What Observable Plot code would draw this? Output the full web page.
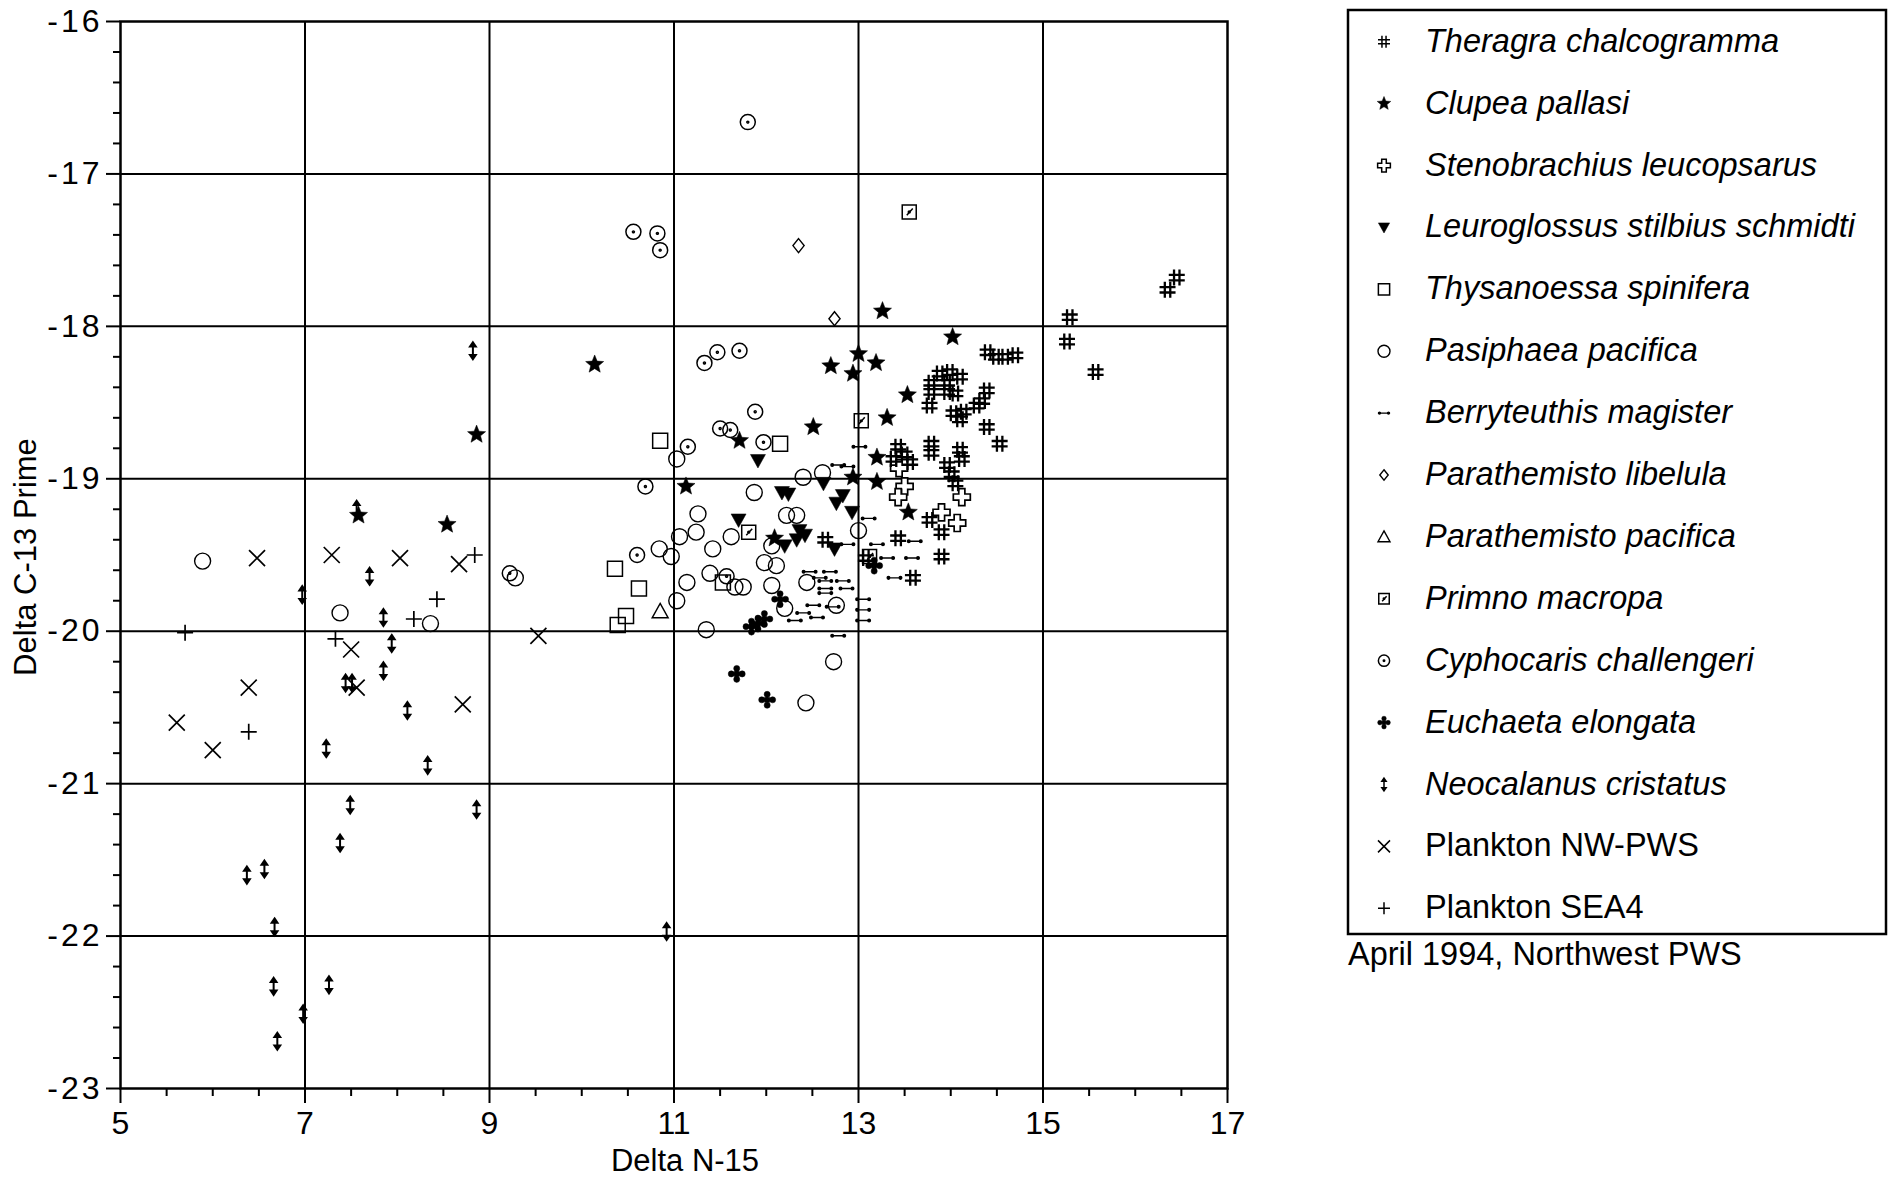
<!DOCTYPE html>
<html>
<head>
<meta charset="utf-8">
<script src="https://cdn.jsdelivr.net/npm/d3@7"></script>
<script src="https://cdn.jsdelivr.net/npm/@observablehq/plot@0.6"></script>
<style>
  html, body { margin: 0; padding: 0; background: #fff; }
  #chart { position: relative; width: 1890px; height: 1177px; font-family: "Liberation Sans", Arial, Helvetica, sans-serif; color: #000; }
  #chart > svg { position: absolute; top: 0; }
</style>
</head>
<body>
<div id="chart"></div>
<script>
// Delta N-15 vs Delta C-13 (prime) for fish, squid and zooplankton, April 1994, NW Prince William Sound
// Each series: [delta N-15, delta C-13 prime]

const theragra = [
  [15.29,-17.94],[15.26,-18.10],[15.57,-18.30],[16.35,-17.76],[16.45,-17.68],
  [14.40,-18.17],[14.49,-18.20],[14.59,-18.20],[14.70,-18.19],
  [13.88,-18.31],[13.99,-18.30],[14.10,-18.33],[13.79,-18.37],[13.96,-18.37],[13.79,-18.43],
  [13.96,-18.43],[14.05,-18.44],[13.77,-18.52],[14.03,-18.57],[14.14,-18.56],[14.10,-18.61],
  [14.39,-18.42],[14.34,-18.49],[14.28,-18.52],[14.39,-18.66],[14.53,-18.77],[13.79,-18.77],
  [13.79,-18.83],[14.10,-18.81],[14.12,-18.87],[13.96,-18.91],[14.01,-18.97],[14.05,-19.03],
  [13.43,-18.79],[13.50,-18.84],[13.56,-18.89],[13.38,-18.87],
  [13.77,-19.27],[13.90,-19.35],[13.43,-19.39],[13.90,-19.51],[13.59,-19.65],[12.64,-19.40],[13.08,-19.52]
];
const clupea = [
  [10.14,-18.25],[8.86,-18.71],[7.58,-19.24],[8.54,-19.30],[11.13,-19.05],[13.26,-17.90],
  [14.02,-18.07],[12.70,-18.26],[13.00,-18.18],[13.19,-18.24],[12.94,-18.31],[12.51,-18.66],
  [11.71,-18.75],[13.53,-18.45],[13.31,-18.60],[13.20,-18.86],[13.20,-19.02],[12.94,-18.99],
  [13.54,-19.22],[12.09,-19.39]
];
const stenobrachius = [
  [13.44,-18.93],[13.50,-19.05],[13.43,-19.12],[14.12,-19.12],[13.90,-19.22],[14.07,-19.29]
];
const leuroglossus = [
  [11.91,-18.88],[12.17,-19.09],[12.24,-19.10],[12.62,-19.03],[12.76,-19.16],[12.83,-19.11],
  [12.93,-19.22],[11.70,-19.27],[12.36,-19.34],[12.42,-19.37],[12.20,-19.44],[12.33,-19.40],[12.74,-19.46]
];
const thysanoessa = [
  [10.85,-18.75],[12.15,-18.77],[10.36,-19.59],[10.62,-19.72],[10.48,-19.90],[10.39,-19.96],[11.53,-19.68]
];
const pasiphaea = [
  [5.89,-19.54],[7.38,-19.88],[8.36,-19.95],[9.28,-19.65],
  [11.03,-18.87],[12.40,-18.99],[12.61,-18.96],
  [11.87,-19.09],[11.26,-19.23],[12.22,-19.24],[12.33,-19.24],[11.24,-19.35],[11.06,-19.38],
  [11.62,-19.38],[11.42,-19.46],[10.84,-19.46],[10.97,-19.51],[12.06,-19.44],[11.98,-19.55],
  [12.11,-19.57],[11.39,-19.62],[11.14,-19.68],[11.66,-19.71],[11.75,-19.71],[12.06,-19.70],
  [12.44,-19.68],[12.76,-19.83],[11.03,-19.80],[11.35,-19.99],[12.20,-19.85],[13.00,-19.34],
  [12.73,-20.20],[12.43,-20.47]
];
const berryteuthis = [
  [12.78,-18.91],[12.88,-18.92],[13.01,-18.79],[13.11,-19.26],[13.20,-19.43],[13.61,-19.41],
  [13.58,-19.52],[13.31,-19.52],[12.88,-19.43],[12.83,-19.67],[12.87,-19.72],[13.39,-19.65],
  [13.05,-19.79],[13.05,-19.86],[13.05,-19.93],[12.78,-20.03],[12.69,-19.61],[12.64,-19.67],
  [12.64,-19.72],[12.64,-19.75],[12.51,-19.83],[12.40,-19.88],[12.58,-19.65],[12.47,-19.61],
  [12.72,-19.84],[12.31,-19.93],[12.55,-19.91]
];
const parathemistoLibelula = [[12.35,-17.47],[12.74,-17.95]];
const parathemistoPacifica = [[10.85,-19.87]];
const primno = [[13.55,-17.25],[13.03,-18.62],[11.81,-19.35],[13.12,-19.51]];
const cyphocaris = [
  [10.56,-17.38],[10.82,-17.39],[10.85,-17.50],[11.80,-16.66],[11.47,-18.17],[11.33,-18.24],
  [11.71,-18.16],[11.88,-18.56],[11.50,-18.67],[11.61,-18.68],[11.97,-18.76],[11.15,-18.79],
  [10.69,-19.05],[10.60,-19.50],[9.22,-19.62],[11.57,-19.64]
];
const euchaeta = [
  [11.68,-20.28],[12.01,-20.45],[12.15,-19.79],[11.91,-19.95],[11.98,-19.92],[11.84,-19.97],[13.17,-19.57]
];
const neocalanus = [
  [7.70,-19.64],[6.97,-19.76],[7.85,-19.91],[7.94,-20.08],[7.85,-20.26],[7.44,-20.34],[7.51,-20.34],
  [8.11,-20.52],[7.23,-20.77],[8.33,-20.88],[7.49,-21.14],[8.86,-21.17],[7.38,-21.39],[6.37,-21.60],
  [6.56,-21.56],[6.67,-21.94],[6.66,-22.33],[7.26,-22.32],[6.98,-22.51],[6.70,-22.69],
  [8.82,-18.16],[7.56,-19.20],[10.92,-21.97]
];
const planktonNW = [
  [6.48,-19.52],[7.29,-19.50],[8.03,-19.52],[8.67,-19.56],[5.61,-20.60],[6.00,-20.78],
  [6.39,-20.37],[7.50,-20.12],[7.56,-20.37],[8.71,-20.48],[9.53,-20.03]
];
const planktonSEA4 = [
  [5.70,-20.01],[6.39,-20.66],[7.33,-20.05],[8.43,-19.79],[8.18,-19.92],[8.84,-19.50]
];

const xTicks = [5, 7, 9, 11, 13, 15, 17];
const yTicks = [-16, -17, -18, -19, -20, -21, -22, -23];
const xLabel = "Delta N-15";
const yLabel = "Delta C-13 Prime";
const caption = "April 1994, Northwest PWS";

// ---- marker shapes (r = half extent in px) ----
const rOf = size => Math.sqrt(size / Math.PI);
const poly = (c, pts) => { pts.forEach(([x, y], i) => i ? c.lineTo(x, y) : c.moveTo(x, y)); c.closePath(); };

const symHash = { draw(c, size) { const r = rOf(size), a = 0.34 * r;
  c.moveTo(-a, -r); c.lineTo(-a, r); c.moveTo(a, -r); c.lineTo(a, r);
  c.moveTo(-r, -a); c.lineTo(r, -a); c.moveTo(-r, a); c.lineTo(r, a); } };
const symStar = { draw(c, size) { const r = rOf(size), ri = 0.44 * r, pts = [];
  for (let i = 0; i < 10; i++) { const q = i % 2 ? ri : r, a = -Math.PI / 2 + i * Math.PI / 5; pts.push([q * Math.cos(a), q * Math.sin(a)]); }
  poly(c, pts); } };
const symCrossOutline = { draw(c, size) { const r = rOf(size), w = 0.36 * r;
  poly(c, [[-w,-r],[w,-r],[w,-w],[r,-w],[r,w],[w,w],[w,r],[-w,r],[-w,w],[-r,w],[-r,-w],[-w,-w]]); } };
const symTriDown = { draw(c, size) { const r = rOf(size); poly(c, [[-r,-0.8*r],[r,-0.8*r],[0,r]]); } };
const symTriUp = { draw(c, size) { const r = rOf(size); poly(c, [[0,-r],[r,0.8*r],[-r,0.8*r]]); } };
const symSquare = { draw(c, size) { const r = rOf(size); poly(c, [[-r,-r],[r,-r],[r,r],[-r,r]]); } };
const symDiamond = { draw(c, size) { const r = rOf(size); poly(c, [[0,-r],[0.8*r,0],[0,r],[-0.8*r,0]]); } };
const symCircle = { draw(c, size) { const r = rOf(size); c.moveTo(r, 0); c.arc(0, 0, r, 0, 2 * Math.PI); } };
const symDotCircle = { draw(c, size) { const r = rOf(size), d = 0.13 * r;
  c.moveTo(r, 0); c.arc(0, 0, r, 0, 2 * Math.PI); c.moveTo(d, 0); c.arc(0, 0, d, 0, 2 * Math.PI); } };
const symPrimno = { draw(c, size) { const r = rOf(size), d = 0.14 * r;
  poly(c, [[-r,-r],[r,-r],[r,r],[-r,r]]);
  c.moveTo(-0.35 * r, 0.45 * r); c.lineTo(0.5 * r, -0.5 * r);
  c.moveTo(d, 0); c.arc(0, 0, d, 0, 2 * Math.PI); } };
const symHArrow = { draw(c, size) { const r = rOf(size), d = 0.22 * r;
  c.moveTo(-r, 0); c.lineTo(r, 0);
  c.moveTo(-r + d, 0); c.arc(-r, 0, d, 0, 2 * Math.PI);
  c.moveTo(r + d, 0); c.arc(r, 0, d, 0, 2 * Math.PI); } };
const symVArrow = { draw(c, size) { const r = rOf(size), h = 0.34 * r;
  c.moveTo(0, -r); c.lineTo(0, r);
  poly(c, [[0,-r],[h,-0.5*r],[-h,-0.5*r]]);
  poly(c, [[0,r],[h,0.5*r],[-h,0.5*r]]); } };
const symClover = { draw(c, size) { const r = rOf(size), q = 0.36 * r, o = r - q;
  for (const [x, y] of [[o,0],[-o,0],[0,o],[0,-o]]) { c.moveTo(x + q, y); c.arc(x, y, q, 0, 2 * Math.PI); }
  poly(c, [[-0.3*r,-0.3*r],[0.3*r,-0.3*r],[0.3*r,0.3*r],[-0.3*r,0.3*r]]); } };
const symTimes = { draw(c, size) { const r = rOf(size);
  c.moveTo(-r, -r); c.lineTo(r, r); c.moveTo(-r, r); c.lineTo(r, -r); } };
const symPlus = { draw(c, size) { const r = rOf(size);
  c.moveTo(-r, 0); c.lineTo(r, 0); c.moveTo(0, -r); c.lineTo(0, r); } };

// legend order and styling for each series
const series = [
  {name: "Theragra chalcogramma", italic: true, data: theragra, symbol: symHash, r: 8, fill: "none", stroke: "#000", sw: 2.3},
  {name: "Clupea pallasi", italic: true, data: clupea, symbol: symStar, r: 9.5, fill: "#000", stroke: "#000", sw: 0.5},
  {name: "Stenobrachius leucopsarus", italic: true, data: stenobrachius, symbol: symCrossOutline, r: 8.5, fill: "#fff", stroke: "#000", sw: 1.7},
  {name: "Leuroglossus stilbius schmidti", italic: true, data: leuroglossus, symbol: symTriDown, r: 7.5, fill: "#000", stroke: "#000", sw: 0.5},
  {name: "Thysanoessa spinifera", italic: true, data: thysanoessa, symbol: symSquare, r: 7.5, fill: "none", stroke: "#000", sw: 1.5},
  {name: "Pasiphaea pacifica", italic: true, data: pasiphaea, symbol: symCircle, r: 8, fill: "none", stroke: "#000", sw: 1.4},
  {name: "Berryteuthis magister", italic: true, data: berryteuthis, symbol: symHArrow, r: 6, fill: "#000", stroke: "#000", sw: 1.4},
  {name: "Parathemisto libelula", italic: true, data: parathemistoLibelula, symbol: symDiamond, r: 7, fill: "none", stroke: "#000", sw: 1.4},
  {name: "Parathemisto pacifica", italic: true, data: parathemistoPacifica, symbol: symTriUp, r: 8, fill: "none", stroke: "#000", sw: 1.4},
  {name: "Primno macropa", italic: true, data: primno, symbol: symPrimno, r: 7, fill: "none", stroke: "#000", sw: 1.5},
  {name: "Cyphocaris challengeri", italic: true, data: cyphocaris, symbol: symDotCircle, r: 7.5, fill: "none", stroke: "#000", sw: 1.5},
  {name: "Euchaeta elongata", italic: true, data: euchaeta, symbol: symClover, r: 8.5, fill: "#000", stroke: "#000", sw: 0.5},
  {name: "Neocalanus cristatus", italic: true, data: neocalanus, symbol: symVArrow, r: 8.5, fill: "#000", stroke: "#000", sw: 2},
  {name: "Plankton NW-PWS", italic: false, data: planktonNW, symbol: symTimes, r: 8, fill: "none", stroke: "#000", sw: 1.7},
  {name: "Plankton SEA4", italic: false, data: planktonSEA4, symbol: symPlus, r: 8, fill: "none", stroke: "#000", sw: 1.7}
];

// open markers first so filled ones sit on top
const drawOrder = [5, 10, 4, 9, 7, 8, 2, 6, 12, 13, 14, 11, 3, 1, 0];

const W = 1300, H = 1177;
const xMinor = d3.range(5, 17.01, 0.5).filter(v => !xTicks.includes(v));
const yMinor = d3.range(-22.8, -16, 0.2).map(v => +v.toFixed(1)).filter(v => !Number.isInteger(v));
const gridStyle = {stroke: "#000", strokeOpacity: 1, strokeWidth: 2};
const fontFamily = '"Liberation Sans", Arial, Helvetica, sans-serif';

const plot = Plot.plot({
  width: W,
  height: H,
  marginLeft: 120,
  marginRight: W - 1227,
  marginTop: 21,
  marginBottom: H - 1088,
  x: {domain: [5, 17], axis: null},
  y: {domain: [-23, -16], axis: null},
  style: {fontFamily, background: "transparent", color: "#000", overflow: "visible"},
  marks: [
    Plot.gridX(xTicks.slice(1, -1), gridStyle),
    Plot.gridY(yTicks.slice(1, -1), gridStyle),
    Plot.axisX(xMinor, {anchor: "bottom", tickSize: 8, strokeWidth: 2, tickFormat: () => "", label: null}),
    Plot.axisX(xTicks, {anchor: "bottom", tickSize: 15, tickPadding: 8, strokeWidth: 2, fontSize: 32, tickFormat: d => String(d), label: null}),
    Plot.axisY(yMinor, {anchor: "left", tickSize: 7, strokeWidth: 2, tickFormat: () => "", label: null}),
    Plot.axisY(yTicks, {anchor: "left", tickSize: 14, tickPadding: 4, strokeWidth: 2, fontSize: 32, tickFormat: d => String(d), label: null}),
    Plot.frame({stroke: "#000", strokeWidth: 2.5}),
    ...drawOrder.map(i => {
      const s = series[i];
      return Plot.dot(s.data, {
        x: d => d[0], y: d => d[1],
        symbol: s.symbol, r: s.r,
        fill: s.fill, stroke: s.stroke, strokeWidth: s.sw
      });
    }),
    Plot.text([xLabel], {text: d => d, frameAnchor: "bottom", textAnchor: "middle", dx: 11, dy: 73, fontSize: 31, lineAnchor: "middle"}),
    Plot.text([yLabel], {text: d => d, frameAnchor: "left", textAnchor: "middle", rotate: -90, dx: -94, dy: 2, fontSize: 31, lineAnchor: "middle"})
  ]
});
plot.style.left = "0px";
// the value axis labels are set with a little extra spacing between characters
plot.querySelectorAll('g[aria-label="y-axis tick label"] text').forEach(t => t.setAttribute("letter-spacing", "3"));
const root = document.getElementById("chart");
root.appendChild(plot);

// legend box with species key and the sampling caption beneath it
const LX = 1340;
const legend = d3.create("svg")
  .attr("width", 550).attr("height", 1000)
  .style("left", LX + "px")
  .attr("font-family", fontFamily);
legend.append("rect")
  .attr("x", 8).attr("y", 10).attr("width", 538).attr("height", 924)
  .attr("fill", "none").attr("stroke", "#000").attr("stroke-width", 2.5);
series.forEach((s, i) => {
  const base = 51.7 + 61.9 * i;
  const r = s.r * 0.75;
  legend.append("path")
    .attr("transform", `translate(44,${base - 10})`)
    .attr("d", d3.symbol(s.symbol, Math.PI * r * r)())
    .attr("fill", s.fill).attr("stroke", s.stroke).attr("stroke-width", Math.min(s.sw, 1.5));
  legend.append("text")
    .attr("x", 85).attr("y", base)
    .attr("font-size", 32.5)
    .attr("font-style", s.italic ? "italic" : "normal")
    .text(s.name);
});
legend.append("text")
  .attr("x", 8).attr("y", 965)
  .attr("font-size", 32.5)
  .text(caption);
root.appendChild(legend.node());
</script>
</body>
</html>
